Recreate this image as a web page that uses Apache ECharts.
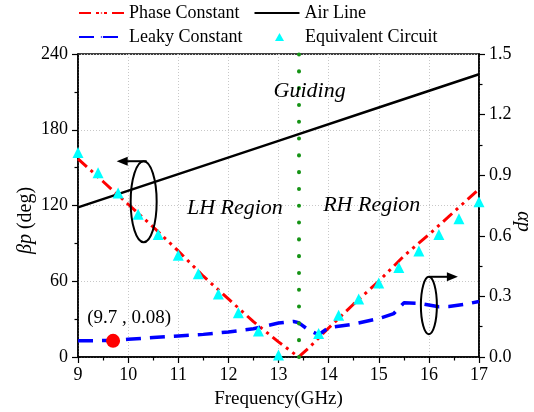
<!DOCTYPE html>
<html>
<head>
<meta charset="utf-8">
<script src="https://cdn.jsdelivr.net/npm/echarts@6/dist/echarts.min.js"></script>
<style>
  html, body { margin: 0; padding: 0; background: #fff; }
  #chart { width: 534px; height: 412px; }
</style>
</head>
<body>
<div id="chart"></div>
<script>
// Frequency sweep (GHz) and phase constant beta*p (deg)
const phaseFreq = [9, 9.5, 10, 10.5, 11, 11.5, 12, 12.5, 13, 13.4, 13.6, 14, 14.5, 15, 15.5, 16, 16.5, 17];
const phaseVals = [157, 139, 121, 103, 84, 64, 46, 28, 12, 0, 7, 23, 42, 60, 80, 97, 115, 133];

// Light line in air (deg)
const airFreq = [9, 11, 13, 15, 17];
const airVals = [118.5, 144.9, 171.2, 197.6, 224];

// Leakage constant alpha*p
const leakyFreq = [9, 9.7, 10, 10.5, 11, 11.5, 12, 12.5, 13, 13.3, 13.4, 13.6, 13.8, 14, 14.5, 15, 15.3, 15.5, 15.8, 16.2, 16.4, 16.7, 17];
const leakyVals = [0.08, 0.082, 0.088, 0.096, 0.104, 0.112, 0.124, 0.14, 0.168, 0.176, 0.17, 0.134, 0.11, 0.145, 0.163, 0.19, 0.215, 0.268, 0.266, 0.249, 0.25, 0.26, 0.275];

// Equivalent-circuit model points (deg)
const circuitFreq = [9.0, 9.4, 9.8, 10.2, 10.6, 11.0, 11.4, 11.8, 12.2, 12.6, 13.0, 13.8, 14.2, 14.6, 15.0, 15.4, 15.8, 16.2, 16.6, 17.0];
const circuitVals = [162, 146, 130, 113, 97, 80.5, 66, 50, 35, 20.5, 1.6, 18.7, 33, 46, 58.7, 70.8, 84, 97, 109.5, 123];

// Highlighted leakage point
const markFreq = 9.7;
const markAlpha = 0.08;

// Transition frequency between LH and RH bands
const transitionFreq = 13.4;

// Axis tick ranges
const freqRange = [9, 17, 1];
const betaRange = [0, 240, 60];
const alphaRange = [0, 1.5, 0.3];

const zip = (xs, ys) => xs.map((x, i) => [x, ys[i]]);

const FONT = '"Liberation Serif", "Times New Roman", serif';
const chart = echarts.init(document.getElementById('chart'), null, { renderer: 'canvas' });

const axisCommon = {
  nameMoveOverlap: false,
  axisLine: { show: true, lineStyle: { color: '#000', width: 1.5 } },
  axisTick: { show: true, inside: false, length: 6, lineStyle: { color: '#000', width: 1.2 } },
  minorTick: { show: true, splitNumber: 2, length: 3.5, lineStyle: { color: '#000', width: 1.2 } },
  axisLabel: { color: '#000', fontFamily: FONT, fontSize: 18 },
  splitLine: { show: true, lineStyle: { color: '#c8c8c8', type: [1, 2], width: 1 } }
};

const legendText = { color: '#000', fontFamily: FONT, fontSize: 18 };

chart.setOption({
  animation: false,
  backgroundColor: '#fff',
  grid: {
    left: 78, right: 55, top: 54, bottom: 55, containLabel: false, outerBoundsMode: 'none',
    show: true, borderColor: '#000', borderWidth: 1.5, backgroundColor: 'transparent'
  },
  legend: [
    { data: ['Phase Constant', 'Air Line'], left: 78, top: 4, itemWidth: 45, itemHeight: 2, itemGap: 14, padding: 0, textStyle: legendText },
    { data: ['Leaky Constant'], left: 78, top: 28, itemWidth: 45, itemHeight: 2, padding: 0, textStyle: legendText },
    {
      data: [{ name: 'Equivalent Circuit', icon: 'triangle' }], left: 275, top: 28, itemWidth: 9, itemHeight: 8, padding: 0,
      textStyle: Object.assign({ padding: [0, 0, 0, 16] }, legendText)
    }
  ],
  xAxis: Object.assign({}, axisCommon, {
    type: 'value', min: freqRange[0], max: freqRange[1], interval: freqRange[2],
    name: 'Frequency(GHz)', nameLocation: 'middle', nameGap: 33,
    nameTextStyle: { color: '#000', fontFamily: FONT, fontSize: 19 },
    axisLabel: Object.assign({}, axisCommon.axisLabel, { margin: 9 })
  }),
  yAxis: [
    Object.assign({}, axisCommon, {
      type: 'value', min: betaRange[0], max: betaRange[1], interval: betaRange[2],
      position: 'left',
      name: '{i|βp} (deg)', nameLocation: 'middle', nameGap: 42, nameRotate: 90,
      nameTextStyle: {
        color: '#000', fontFamily: FONT, fontSize: 20, padding: [0, 30, 0, 0],
        rich: { i: { fontStyle: 'italic', fontFamily: FONT, fontSize: 20, color: '#000' } }
      },
      axisLabel: Object.assign({}, axisCommon.axisLabel, { margin: 10 })
    }),
    Object.assign({}, axisCommon, {
      type: 'value', min: alphaRange[0], max: alphaRange[1], interval: alphaRange[2],
      position: 'right',
      name: 'αp', nameLocation: 'middle', nameGap: 34, nameRotate: -90,
      nameTextStyle: { color: '#000', fontFamily: FONT, fontSize: 20, fontStyle: 'italic', padding: [0, 0, 0, 32] },
      splitLine: { show: false },
      axisLabel: Object.assign({}, axisCommon.axisLabel, { margin: 10, formatter: v => v.toFixed(1) })
    })
  ],
  series: [
    {
      name: 'Phase Constant', type: 'line', yAxisIndex: 0, showSymbol: false, symbol: 'none',
      data: zip(phaseFreq, phaseVals),
      lineStyle: { color: '#ff0000', width: 3, type: [12, 5, 3, 5, 3, 5] },
      itemStyle: { color: '#ff0000' },
      z: 3,
      markLine: {
        silent: true, symbol: 'none', label: { show: false },
        lineStyle: { color: '#159315', width: 4, type: [0.1, 16.7], cap: 'round' },
        data: [{ xAxis: transitionFreq }]
      }
    },
    {
      name: 'Air Line', type: 'line', yAxisIndex: 0, showSymbol: false, symbol: 'none',
      data: zip(airFreq, airVals),
      lineStyle: { color: '#000', width: 2.5, type: 'solid' },
      itemStyle: { color: '#000' },
      z: 2
    },
    {
      name: 'Leaky Constant', type: 'line', yAxisIndex: 1, showSymbol: false, symbol: 'none',
      data: zip(leakyFreq, leakyVals),
      lineStyle: { color: '#0000ff', width: 3.5, type: [15, 9] },
      itemStyle: { color: '#0000ff' },
      z: 3
    },
    {
      name: 'Equivalent Circuit', type: 'scatter', yAxisIndex: 0, symbol: 'triangle', symbolSize: 11,
      data: zip(circuitFreq, circuitVals),
      itemStyle: { color: '#00ffff', opacity: 1 },
      z: 4
    },
    {
      name: 'marker', type: 'scatter', yAxisIndex: 1, symbol: 'circle', symbolSize: 14,
      data: [[markFreq, markAlpha]],
      itemStyle: { color: '#ff0000', opacity: 1 },
      label: {
        show: true, position: 'top', distance: 6, offset: [16, 0],
        formatter: '(' + markFreq + ' , ' + markAlpha.toFixed(2) + ')',
        color: '#000', fontFamily: FONT, fontSize: 19
      },
      z: 5
    }
  ]
});

// Annotations anchored in data space
const px = (f, b) => chart.convertToPixel({ xAxisIndex: 0, yAxisIndex: 0 }, [f, b]);
const g = [];
const ann = { fill: '#000', font: 'italic 22px ' + FONT, textAlign: 'center', textVerticalAlign: 'middle' };
[['Guiding', 13.62, 210.5], ['LH Region', 12.13, 118], ['RH Region', 14.86, 120]].forEach(([t, f, b]) => {
  const p = px(f, b);
  g.push({ type: 'text', x: p[0], y: p[1], style: Object.assign({ text: t }, ann), z: 10 });
});

function ellipseWithArrow(f, b, rx, ry, dir, len) {
  const c = px(f, b);
  g.push({ type: 'ellipse', shape: { cx: c[0], cy: c[1], rx: rx, ry: ry },
    style: { fill: 'none', stroke: '#000', lineWidth: 2 }, z: 10 });
  const y0 = c[1] - ry;
  const x0 = c[0] + (dir < 0 ? 3 : 0);
  const x1 = x0 + dir * len;
  g.push({ type: 'line', shape: { x1: x0, y1: y0, x2: x1 - dir * 8, y2: y0 },
    style: { stroke: '#000', lineWidth: 2 }, z: 10 });
  g.push({ type: 'polygon', shape: { points: [[x1, y0], [x1 - dir * 11, y0 - 4.5], [x1 - dir * 11, y0 + 4.5]] },
    style: { fill: '#000' }, z: 10 });
}
ellipseWithArrow(10.31, 123, 13, 40.5, -1, 30);
ellipseWithArrow(16.0, 40.8, 8, 28.7, 1, 29);

chart.setOption({ graphic: g });
</script>
</body>
</html>
